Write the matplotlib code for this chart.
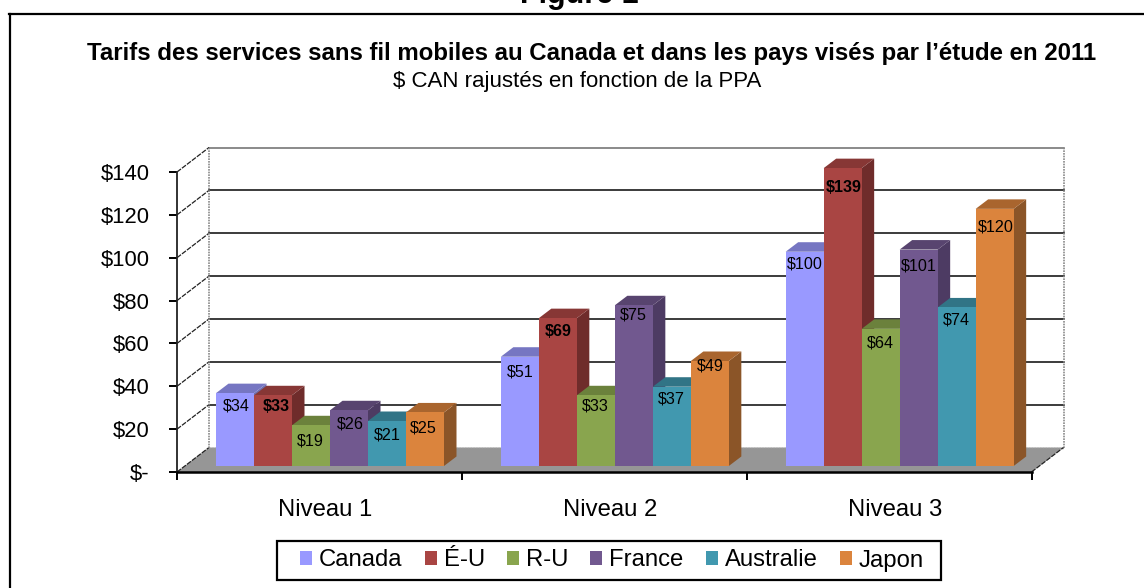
import matplotlib
matplotlib.use("Agg")
import matplotlib.pyplot as plt
from matplotlib.patches import Patch, Rectangle
from matplotlib.lines import Line2D

plt.rcParams['font.family'] = ['Liberation Sans', 'DejaVu Sans']

# ---- data ----
categories = ['Niveau 1', 'Niveau 2', 'Niveau 3']
canada = [34, 51, 100]
eu = [33, 69, 139]
ru = [19, 33, 64]
france = [26, 75, 101]
australie = [21, 37, 74]
japon = [25, 49, 120]
series_names = ['Canada', 'É-U', 'R-U', 'France', 'Australie', 'Japon']
series_values = [canada, eu, ru, france, australie, japon]
y_ticks = [0, 20, 40, 60, 80, 100, 120, 140]
y_labels = ['$-', '$20', '$40', '$60', '$80', '$100', '$120', '$140']

# ---- styles ----
front = ['#9999FF', '#A94543', '#89A54E', '#71588F', '#4198AF', '#DB843D']
top = ['#7676C2', '#873735', '#6B813C', '#58446F', '#317486', '#A9652E']
side = ['#6F6FB0', '#6F2C2B', '#5C6F34', '#4D3B63', '#2B6676', '#8B5528']
# label offsets from the bar's top-centre, in pixels (series x category)
lab_dy = [[13, 15, 12], [11, 13, 19], [16, 11, 14], [14, 10, 16], [14, 12, 13], [16, 5, 18]]
lab_dx = [[1, 0, 0], [3, 0, 1], [-1, -1, 0], [1, -1, 0], [0, 0, 0], [-2, 0, 1]]

W, H = 1144, 588
fig = plt.figure(figsize=(W / 100, H / 100), dpi=100, facecolor='white')
X0, X1, Y0, Y1 = 177, 1031.5, 472, 172
ax = fig.add_axes([X0 / W, 1 - Y0 / H, (X1 - X0) / W, (Y0 - Y1) / H])
ax.set_xlim(0, 3)
ax.set_ylim(0, 140)
ax.set_facecolor('none')
px = 3 / (X1 - X0)     # x data units per pixel
py = 140 / (Y0 - Y1)   # y data units per pixel

wx, wy = 32 * px, 24.5 * py      # wall depth
bx0, bw = 39 * px, 38 * px       # bar start in group, bar width
base = 6 * py                    # bar front base
dx, dy = 12.5 * px, 9.5 * py     # bar depth

# floor
ax.fill([0, 3, 3 + wx, wx], [0, 0, wy, wy], color='#969696', lw=0, clip_on=False, zorder=1)

# gridlines on the back and side walls
for v in y_ticks:
    if v == 0:
        ax.plot([wx, 3 + wx], [wy, wy], color='#9a9a9a', lw=1, ls=(0, (1, 1)), clip_on=False, zorder=1.5)
    elif v == 140:
        ax.plot([wx, 3 + wx], [v + wy, v + wy], color='#777777', lw=1.2, clip_on=False, zorder=1)
    else:
        ax.plot([wx, 3 + wx], [v + wy, v + wy], color='#1a1a1a', lw=1.2, clip_on=False, zorder=1)
    ax.plot([0, wx], [v, v + wy], color='#222222', lw=0.9, ls=(0, (4, 1)), clip_on=False, zorder=1)
ax.plot([3, 3 + wx], [0, wy], color='#222222', lw=0.9, ls=(0, (4, 1)), clip_on=False, zorder=1.6)
for xv in (wx, 3 + wx):
    ax.plot([xv, xv], [wy, 140 + wy], color='#8a8a8a', lw=1.2, ls=(0, (1, 0.6)), clip_on=False, zorder=1)

# bars, left to right so each front hides its neighbour's side
for g in range(len(categories)):
    for s, vals in enumerate(series_values):
        v = vals[g]
        xl = g + bx0 + s * bw
        xr = xl + bw
        yt = base + v
        ax.fill([xr, xr + dx, xr + dx, xr], [base, base + dy, yt + dy, yt], color=side[s], lw=0, clip_on=False, zorder=2)
        ax.fill([xl, xr, xr + dx, xl + dx], [yt, yt, yt + dy, yt + dy], color=top[s], lw=0, clip_on=False, zorder=2)
        ax.fill([xl, xr, xr, xl], [base, base, yt, yt], color=front[s], lw=0, clip_on=False, zorder=2)
for g in range(len(categories)):
    for s, vals in enumerate(series_values):
        v = vals[g]
        ax.text(g + bx0 + (s + 0.5) * bw + lab_dx[s][g] * px, base + v - lab_dy[s][g] * py, rf'\${v}',
                ha='center', va='center', fontsize=11.6, color='black',
                fontweight='bold' if s == 1 else 'normal', zorder=5, clip_on=False)

# axes
for name in ('top', 'right'):
    ax.spines[name].set_visible(False)
ax.spines['left'].set_linewidth(1.3)
ax.spines['left'].set_color('#222222')
ax.spines['bottom'].set_linewidth(1.8)
ax.set_yticks(y_ticks)
ax.set_yticklabels([t.replace('$', r'\$') for t in y_labels], fontsize=15.8)
ax.tick_params(axis='y', length=5.5, width=1.4, pad=14)
ax.set_xticks(range(len(categories) + 1))
ax.set_xticklabels([])
ax.tick_params(axis='x', length=5.5, width=1.4)
ax.set_xticks([i + 0.5 + 6 * px for i in range(len(categories))], minor=True)
ax.set_xticklabels(categories, minor=True, fontsize=17.2)
ax.tick_params(axis='x', which='minor', length=0, pad=19.5)

# titles
fig.text(579 / W, 1 - 3 / H, 'Figure 1', ha='center', va='baseline', fontsize=22, fontweight='bold')
fig.text(591.5 / W, 1 - 60 / H, 'Tarifs des services sans fil mobiles au Canada et dans les pays visés par l’étude en 2011',
         ha='center', va='baseline', fontsize=17.3, fontweight='bold')
fig.text(577.5 / W, 1 - 87 / H, r'\$ CAN rajustés en fonction de la PPA',
         ha='center', va='baseline', fontsize=16)

# outer frame: top and left only
fig.add_artist(Line2D([9.5 / W, 9.5 / W], [0, 1 - 14 / H], color='black', lw=1.6))
fig.add_artist(Line2D([9 / W, 1], [1 - 14 / H, 1 - 14 / H], color='black', lw=1.6))

# legend box and entries
fig.add_artist(Rectangle((277 / W, 1 - 580 / H), 664 / W, 39 / H, facecolor='white',
                         edgecolor='black', lw=1.6, transform=fig.transFigure))
handles = [Patch(facecolor=c, edgecolor='none', label=n) for c, n in zip(front, series_names)]
leg = fig.legend(handles=handles, ncols=6, loc='center', bbox_to_anchor=(612 / W, 1 - 560.5 / H),
                 fontsize=17.2, frameon=False, handlelength=0.5, handleheight=0.55,
                 handletextpad=0.3, columnspacing=0.92, borderpad=0.42, borderaxespad=0)
leg.set_zorder(10)

fig.savefig('out.png', dpi=100, facecolor='white')
